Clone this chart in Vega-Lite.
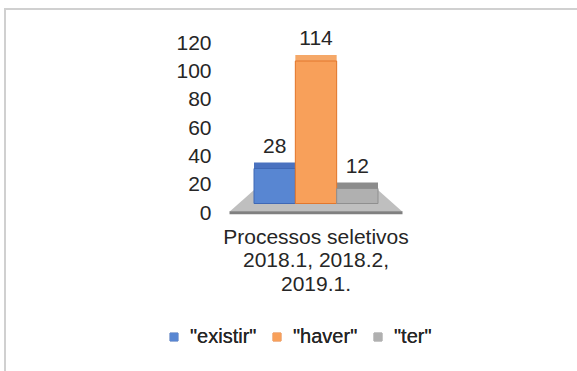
{
  "$schema": "https://vega.github.io/schema/vega-lite/v6.json",
  "autosize": {"type": "none"},
  "padding": {"left": 5, "top": 9, "right": 0, "bottom": 0},
  "width": 572,
  "height": 362,
  "background": "white",
  "config": {
    "font": "Liberation Sans",
    "view": {"stroke": "#d0d0d0", "strokeWidth": 2, "strokeDash": [572, 934, 362, 10]},
    "axis": {"grid": false}
  },
  "data": {
    "values": [
      {"processo": "Processos seletivos\n2018.1, 2018.2,\n2019.1.", "tipo": "\"existir\"", "ocorrencias": 28},
      {"processo": "Processos seletivos\n2018.1, 2018.2,\n2019.1.", "tipo": "\"haver\"", "ocorrencias": 114},
      {"processo": "Processos seletivos\n2018.1, 2018.2,\n2019.1.", "tipo": "\"ter\"", "ocorrencias": 12}
    ]
  },
  "layer": [
    {
      "transform": [{"aggregate": [{"op": "count", "as": "n"}], "groupby": ["processo"]}],
      "mark": {"type": "point", "shape": "M-1,0.095L1,0.095L0.717,-0.156L-0.717,-0.156Z", "size": 29929, "filled": true, "fill": "#BFBFBF", "opacity": 1, "strokeWidth": 0},
      "encoding": {
        "x": {"field": "processo", "type": "nominal", "scale": {"range": [249, 373], "paddingInner": 0, "paddingOuter": 0},
          "axis": {"title": null, "orient": "bottom", "offset": -145, "ticks": false, "domain": false, "labelPadding": 0, "labelAngle": 0, "labelFontSize": 21, "labelColor": "#262626", "labelLineHeight": 23.5, "labelExpr": "split(datum.label, '\\n')", "labelLimit": 400}},
        "y": {"datum": 0, "type": "quantitative", "scale": {"domain": [0, 120], "range": [194.5, 44.5]}, "axis": null}
      }
    },
    {
      "transform": [{"aggregate": [{"op": "count", "as": "n"}], "groupby": ["processo"]}],
      "mark": {"type": "point", "shape": "M-1,0.09L1,0.09L1,0.125L-1,0.125Z", "size": 29929, "filled": true, "fill": "#808080", "opacity": 1, "strokeWidth": 0},
      "encoding": {
        "x": {"field": "processo", "type": "nominal"},
        "y": {"datum": 0, "type": "quantitative", "scale": {"domain": [0, 120], "range": [194.5, 44.5]}, "axis": null}
      }
    },
    {
      "mark": {"type": "bar", "yOffset": -6, "y2Offset": -6},
      "encoding": {
        "x": {"field": "processo", "type": "nominal"},
        "xOffset": {"field": "tipo", "type": "nominal", "scale": {"paddingInner": 0, "paddingOuter": 0}},
        "y": {"field": "ocorrencias", "type": "quantitative", "scale": {"domain": [0, 120], "range": [194.5, 44.5]}, "axis": null},
        "color": {"field": "tipo", "type": "nominal", "scale": {"range": ["#4A72C0", "#F5A868", "#8C8C8C"]}, "legend": null}
      }
    },
    {
      "mark": {"type": "bar", "strokeWidth": 1},
      "encoding": {
        "x": {"field": "processo", "type": "nominal"},
        "xOffset": {"field": "tipo", "type": "nominal", "scale": {"paddingInner": 0, "paddingOuter": 0}},
        "y": {"field": "ocorrencias", "type": "quantitative", "scale": {"domain": [0, 120], "range": [194.5, 44.5]}, "axis": null},
        "color": {"field": "tipo", "type": "nominal", "scale": {"range": ["#5886D2", "#F8A05A", "#B0B0B0"]},
          "legend": {"title": null, "orient": "none", "legendX": 159, "legendY": 318, "direction": "horizontal", "symbolType": "square", "symbolSize": 64, "symbolStrokeWidth": 1, "labelFontSize": 20, "labelColor": "#262626", "labelOffset": 6, "columnPadding": 10, "padding": 0}},
        "stroke": {"field": "tipo", "type": "nominal", "scale": {"range": ["#3F68B5", "#E2772D", "#8F8F8F"]},
          "legend": {"title": null, "orient": "none", "legendX": 159, "legendY": 318, "direction": "horizontal", "symbolType": "square", "symbolSize": 64, "symbolStrokeWidth": 1, "labelFontSize": 20, "labelColor": "#262626", "labelOffset": 6, "columnPadding": 10, "padding": 0}}
      }
    },
    {
      "mark": {"type": "text", "baseline": "alphabetic", "dy": -16, "fontSize": 21, "color": "#262626"},
      "encoding": {
        "x": {"field": "processo", "type": "nominal"},
        "xOffset": {"field": "tipo", "type": "nominal", "scale": {"paddingInner": 0, "paddingOuter": 0}},
        "y": {"field": "ocorrencias", "type": "quantitative", "scale": {"domain": [0, 120], "range": [194.5, 44.5]}, "axis": null},
        "text": {"field": "ocorrencias", "type": "quantitative"}
      }
    },
    {
      "mark": {"type": "point", "opacity": 0},
      "encoding": {
        "x": {"field": "processo", "type": "nominal"},
        "y": {"field": "ocorrencias", "type": "quantitative", "scale": {"domain": [0, 120], "range": [204, 34]},
          "axis": {"values": [0, 20, 40, 60, 80, 100, 120], "title": null, "ticks": false, "domain": false, "grid": false, "labelPadding": 0, "offset": -206, "labelFontSize": 21, "labelColor": "#262626"}}
      }
    }
  ],
  "resolve": {"scale": {"y": "independent", "color": "independent"}}
}
